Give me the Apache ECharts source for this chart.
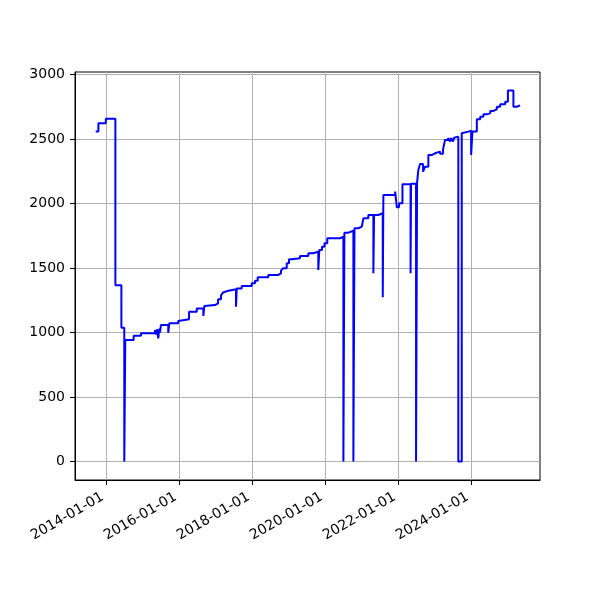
<!DOCTYPE html>
<html>
<head>
<meta charset="utf-8">
<script src="https://cdn.jsdelivr.net/npm/echarts@6/dist/echarts.min.js"></script>
<style>html,body{margin:0;padding:0;background:#fff}#c{width:600px;height:600px}</style>
</head>
<body>
<div id="c"></div>
<script>
const dates = [
'2013-09-19','2013-10-16','2013-12-29','2014-04-04','2014-06-03','2014-07-02','2014-07-12','2014-10-04','2014-12-16',
'2015-05-05','2015-05-15','2015-05-25','2015-06-07','2015-06-17','2015-06-24','2015-07-04','2015-09-15','2015-09-25','2015-12-24',
'2016-01-10','2016-04-10','2016-06-26','2016-08-31','2016-09-10','2016-09-30','2016-12-26',
'2017-01-25','2017-02-24','2017-03-16','2017-04-05','2017-05-08','2017-07-24','2017-07-31','2017-09-19','2017-12-28',
'2018-01-30','2018-02-26','2018-06-12','2018-09-20','2018-10-17','2018-11-06','2018-12-13',
'2019-01-05','2019-02-01','2019-04-25','2019-07-17','2019-09-02','2019-10-25','2019-11-04','2019-12-01','2019-12-26',
'2020-01-23','2020-05-30','2020-07-02','2020-07-12','2020-08-21','2020-10-10','2020-10-21','2020-11-30',
'2021-01-02','2021-01-18','2021-03-09','2021-04-28','2021-05-05','2021-06-17','2021-07-31','2021-08-06','2021-12-02','2021-12-19',
'2022-01-10','2022-02-13','2022-05-05','2022-05-10','2022-06-29','2022-07-09','2022-07-22','2022-08-08','2022-09-07','2022-09-27','2022-10-30','2022-12-06',
'2023-01-05','2023-02-24','2023-03-26','2023-04-15','2023-05-15','2023-06-04','2023-06-14','2023-07-04','2023-07-14','2023-07-24','2023-08-26','2023-09-29','2023-10-12','2023-12-04',
'2024-01-01','2024-01-14','2024-02-27','2024-04-01','2024-05-03','2024-06-07','2024-07-10','2024-08-11','2024-09-14','2024-10-18','2024-12-07',
'2025-01-03','2025-02-27','2025-04-02','2025-05-05'
];
const values = [
2557,2622,2657,1366,1037,0,942,975,994,
1019,985,1025,955,1030,1000,1058,998,1071,1089,
1102,1161,1187,1128,1205,1213,1226,
1257,1288,1310,1324,1335,1200,1342,1360,1381,
1402,1428,1446,1459,1479,1498,1536,
1567,1575,1593,1614,1626,1484,1640,1665,1691,
1730,1743,0,1774,1789,0,1808,1820,
1833,1885,1911,1459,1911,1924,1273,2066,2092,1970,
2002,2149,1459,2152,0,2160,2260,2306,2246,2285,2376,2389,
2402,2385,2420,2492,2508,2480,2508,2480,2510,2518,0,2544,2557,2563,
2376,2557,2653,2673,2691,2700,2717,2730,2750,2769,2789,
2875,2750,2760,2760
];
const xTickLabels = ['2014-01-01','2016-01-01','2018-01-01','2020-01-01','2022-01-01','2024-01-01'];
const yTickValues = [0,500,1000,1500,2000,2500,3000];

const ts = s => Date.parse(s + 'T00:00:00Z');
const seriesData = dates.map((d, i) => [ts(d), values[i]]);
const xTicks = xTickLabels.map(ts);
const pad = (n) => (n < 10 ? '0' : '') + n;
const fmt = v => { const d = new Date(v); return d.getUTCFullYear() + '-' + pad(d.getUTCMonth() + 1) + '-' + pad(d.getUTCDate()); };

const chart = echarts.init(document.getElementById('c'), null, {renderer: 'canvas'});
const font = 'DejaVu Sans';
chart.setOption({
  animation: false,
  backgroundColor: '#fff',
  grid: {left: 75, right: 60, top: 72, bottom: 120, show: true, borderColor: '#000', borderWidth: 1, backgroundColor: 'transparent'},
  xAxis: {
    type: 'value',
    min: ts('2013-02-24'),
    max: ts('2025-11-20'),
    axisLine: {show: true, onZero: false, lineStyle: {color: '#000', width: 1}},
    axisTick: {show: true, length: 5, inside: false, customValues: xTicks, lineStyle: {color: '#000', width: 1}},
    axisLabel: {customValues: xTicks, formatter: v => fmt(v), rotate: 30, margin: 14, padding: [0, 4, 0, 0], color: '#000', fontFamily: font, fontSize: 14},
    splitLine: {show: true, lineStyle: {color: '#b0b0b0', width: 1}}
  },
  yAxis: {
    type: 'value',
    min: -143,
    max: 3019,
    axisLine: {show: true, onZero: false, lineStyle: {color: '#000', width: 1}},
    axisTick: {show: true, length: 5, customValues: yTickValues, lineStyle: {color: '#000', width: 1}},
    axisLabel: {customValues: yTickValues, formatter: v => String(v), margin: 10, color: '#000', fontFamily: font, fontSize: 14},
    splitLine: {show: true, lineStyle: {color: '#b0b0b0', width: 1}}
  },
  series: [{
    type: 'line',
    step: 'end',
    data: seriesData,
    showSymbol: false,
    lineStyle: {color: '#0000ff', width: 2},
    itemStyle: {color: '#0000ff'}
  }]
});
</script>
</body>
</html>
